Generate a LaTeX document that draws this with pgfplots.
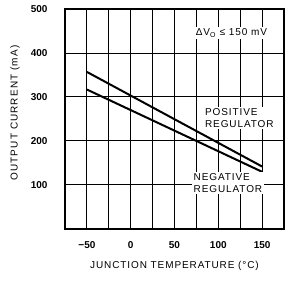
\documentclass[border=0pt]{standalone}
\usepackage{pgfplots}
\pgfplotsset{compat=1.18}
\usepackage{fontspec}
\setmainfont{Liberation Sans}
\newfontfamily\spaced{Liberation Sans}[LetterSpace=9]
\newfontfamily\spacedy{Liberation Sans}[LetterSpace=11]
\begin{document}
\begin{tikzpicture}
\path[use as bounding box] (-65pt,-54pt) rectangle (227pt,229pt);
\begin{axis}[
  at={(0,0)}, anchor=south west,
  scale only axis, width=219pt, height=220pt,
  xmin=-75, xmax=175, ymin=0, ymax=500,
  xtick={-50,0,...,150}, minor xtick={-25,25,75,125},
  xticklabels={−50,0,50,100,150},
  ytick={100,200,...,500},
  grid=both,
  major grid style={black, line width=1pt},
  minor grid style={black, line width=1pt},
  axis line style={line width=1.8pt},
  major tick length=0pt, minor tick length=0pt,
  /pgf/number format/assume math mode=true,
  tick label style={font=\bfseries\fontsize{10}{11}\selectfont},
  xticklabel style={anchor=center, yshift=-16pt},
  yticklabel style={anchor=east, xshift=-14pt},
  xlabel={JUNCTION TEMPERATURE (°C)},
  ylabel={OUTPUT CURRENT (mA)},
  xlabel style={font=\spaced\fontsize{10}{11}\selectfont, at={(axis description cs:0.5,-0.168)}, anchor=center},
  ylabel style={font=\spacedy\fontsize{10}{11}\selectfont, at={(axis description cs:-0.228,0.527)}, anchor=center},
]
\addplot[black, line width=2pt] coordinates {(-50,357) (150,142)};
\addplot[black, line width=2pt] coordinates {(-50,317) (150,130)};
\node[font=\spaced\fontsize{10}{11}\selectfont, fill=white, inner sep=1.5pt] at (axis cs:115,445) {ΔV\textsubscript{O} ≤ 150 mV};
\node[font=\spaced\fontsize{10}{12}\selectfont, fill=white, inner sep=1.5pt, align=left, anchor=west] at (axis cs:83,253) {POSITIVE\\REGULATOR};
\node[font=\spaced\fontsize{10}{12}\selectfont, fill=white, inner sep=1.5pt, align=left, anchor=west] at (axis cs:70,104) {NEGATIVE\\REGULATOR};
\end{axis}
\end{tikzpicture}
\end{document}
